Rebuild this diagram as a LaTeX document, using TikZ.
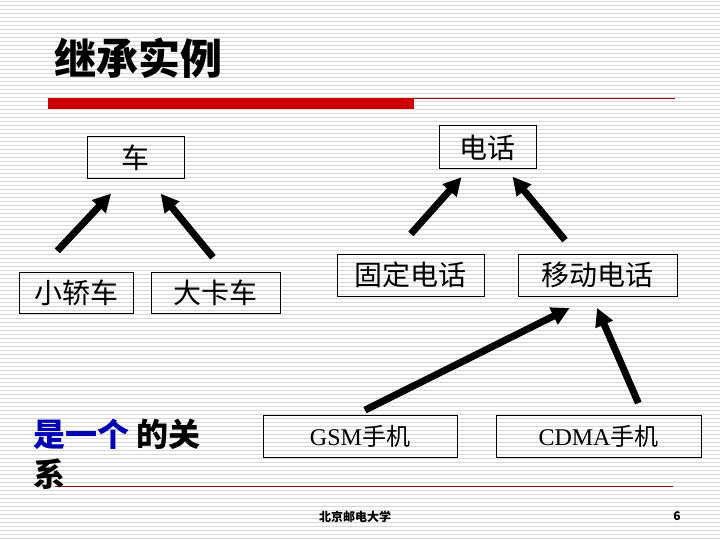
\documentclass[tikz,border=0pt]{standalone}
\usepackage{fontspec}
\setmainfont{Noto Sans CJK SC}
\newfontfamily\latinserif{Liberation Serif}
\usetikzlibrary{arrows.meta}
\definecolor{titlered}{RGB}{204,0,0}
\definecolor{rulered}{RGB}{140,20,20}
\definecolor{isablue}{RGB}{0,0,180}
\definecolor{stripegray}{RGB}{215,215,215}

\begin{document}
\begin{tikzpicture}[x=1pt,y=-1pt,
    box/.style={draw,line width=1pt,inner sep=0pt,outer sep=0pt,minimum height=42pt,font=\fontsize{28}{28}\selectfont},
    isa/.style={line width=7pt,-{Triangle[length=18pt,width=18pt]}}]
  \useasboundingbox (0,0) rectangle (720,540);
  % striped background
  \fill[white] (0,0) rectangle (720,540);
  \foreach \y in {2,6,...,538}
    \draw[stripegray,line width=1pt] (0,\y) -- (720,\y);
  % title and rules
  \node[anchor=west,inner sep=0pt,font=\bfseries\fontsize{42}{42}\selectfont] (title) at (54,58) {继承实例};
  \fill[titlered] (48,98) rectangle (414,109);
  \draw[rulered,line width=1pt] (414,99) -- (675,99);
  \draw[rulered,line width=1pt] (55,486) -- (673,486);
  % vehicles
  \node[box,minimum width=97pt] (car) at (135.5,158) {车};
  \node[box,minimum width=114pt,minimum height=41pt] (saloon) at (76,292.5) {小轿车};
  \node[box,minimum width=129pt,minimum height=41pt] (truck) at (215.5,292.5) {大卡车};
  % phones
  \node[box,minimum width=97pt,minimum height=43pt] (phone) at (487.5,147.5) {电话};
  \node[box,minimum width=147pt] (fixed) at (410.5,275) {固定电话};
  \node[box,minimum width=159pt] (mobile) at (597.5,275) {移动电话};
  \node[box,minimum width=194pt,font=\fontsize{24}{24}\selectfont] (gsm) at (360,436) {{\latinserif GSM}手机};
  \node[box,minimum width=205pt,font=\fontsize{24}{24}\selectfont] (cdma) at (598.5,436) {{\latinserif CDMA}手机};
  % is-a arrows
  \draw[isa,shorten <=29pt,shorten >=20pt] (saloon.152) -- (car.243);
  \draw[isa,shorten <=19pt,shorten >=19pt] (truck.65) -- (car.302);
  \draw[isa,shorten <=27pt,shorten >=11pt] (fixed.130) -- (phone.229);
  \draw[isa,shorten <=18pt,shorten >=10pt] (mobile.135) -- (phone.311);
  \draw[isa,shorten <=11pt,shorten >=27pt] (gsm.103) -- (mobile.260);
  \draw[isa,shorten <=13pt,shorten >=13pt] (cdma.25) -- (mobile.255);
  % relation text and footer
  \node[anchor=north west,inner sep=0pt,align=left,font=\bfseries\fontsize{32}{40}\selectfont] (relation) at (33,419) {\textcolor{isablue}{是一个}\ 的关\\系};
  \node[font=\bfseries\fontsize{12}{12}\selectfont] (school) at (355,517) {北京邮电大学};
  \node[font=\bfseries\fontsize{12}{12}\selectfont] (page) at (677,516) {6};
\end{tikzpicture}
\end{document}
